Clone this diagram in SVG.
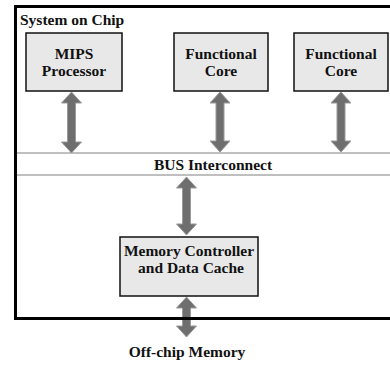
<svg xmlns="http://www.w3.org/2000/svg" width="390" height="367" viewBox="0 0 390 367">
  <style>
    .lbl { font-family: "Liberation Serif", "Times New Roman", serif; font-weight: bold; font-size: 15.5px; fill: #111; }
    .mid { text-anchor: middle; }
    .box { fill: #e8e8e8; stroke: #111; stroke-width: 1.5; }
    .arrow { fill: #6e6e6e; stroke: #9a9a9a; stroke-width: 1; }
    .bus { stroke: #aaaaaa; stroke-width: 1.5; fill: none; }
  </style>
  <rect width="390" height="367" fill="#ffffff"/>
  <g id="bus">
    <line class="bus" x1="17" y1="153" x2="390" y2="153"/>
    <line class="bus" x1="17" y1="175" x2="390" y2="175"/>
    <text class="lbl mid" x="213" y="170">BUS Interconnect</text>
  </g>
  <g id="mips">
    <rect class="box" x="26" y="33" width="96" height="58"/>
    <text class="lbl mid" x="74" y="59">MIPS</text>
    <text class="lbl mid" x="74" y="76">Processor</text>
  </g>
  <g id="core1">
    <rect class="box" x="174" y="33" width="94" height="58"/>
    <text class="lbl mid" x="221" y="59">Functional</text>
    <text class="lbl mid" x="221" y="76">Core</text>
  </g>
  <g id="core2">
    <rect class="box" x="294" y="33" width="94" height="58"/>
    <text class="lbl mid" x="341" y="59">Functional</text>
    <text class="lbl mid" x="341" y="76">Core</text>
  </g>
  <g id="memctrl">
    <rect class="box" x="120" y="237" width="138" height="59"/>
    <text class="lbl mid" x="189" y="256">Memory Controller</text>
    <text class="lbl mid" x="191" y="273">and Data Cache</text>
  </g>
  <g id="offchip">
    <text class="lbl mid" x="187" y="357">Off-chip Memory</text>
  </g>
  <g id="connectors">
    <path class="arrow" d="M71.5,92 L81.5,103 L75.5,103 L75.5,142 L81.5,142 L71.5,153 L61.5,142 L67.5,142 L67.5,103 L61.5,103 Z"/>
    <path class="arrow" d="M220,92 L230,103 L224,103 L224,141 L230,141 L220,152 L210,141 L216,141 L216,103 L210,103 Z"/>
    <path class="arrow" d="M341,92 L351,103 L345,103 L345,141 L351,141 L341,152 L331,141 L337,141 L337,103 L331,103 Z"/>
    <path class="arrow" d="M186.5,177 L196.5,188 L190.5,188 L190.5,224 L196.5,224 L186.5,235 L176.5,224 L182.5,224 L182.5,188 L176.5,188 Z"/>
    <path class="arrow" d="M186.5,297 L196.5,308 L190.5,308 L190.5,326 L196.5,326 L186.5,337 L176.5,326 L182.5,326 L182.5,308 L176.5,308 Z"/>
  </g>
  <g id="soc">
    <rect x="15.5" y="6.5" width="385" height="312" fill="none" stroke="#000" stroke-width="3"/>
    <text class="lbl" x="20" y="25">System on Chip</text>
  </g>
</svg>
